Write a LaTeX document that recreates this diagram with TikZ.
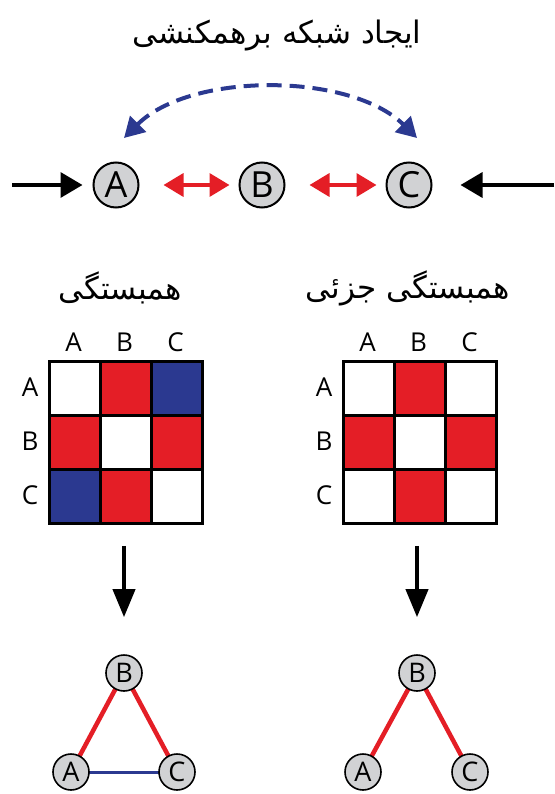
\documentclass[tikz,border=0pt]{standalone}
\usepackage{fontspec}
\setmainfont{Open Sans}
\newfontfamily\fa[Script=Arabic]{DejaVu Sans}
\TeXXeTstate=1
\usetikzlibrary{arrows.meta}
\definecolor{myred}{HTML}{E41E26}
\definecolor{myblue}{HTML}{2B3990}
\definecolor{nodegray}{HTML}{D1D2D4}
\tikzset{
  bigcirc/.style={circle,draw=black,line width=2pt,fill=nodegray,minimum size=45pt,inner sep=0pt,font=\fontsize{36}{36}\selectfont},
  smallcirc/.style={circle,draw=black,line width=1.6pt,fill=nodegray,minimum size=36pt,inner sep=0pt,font=\fontsize{27}{27}\selectfont},
  cell/.style={draw=black,line width=2.8pt,minimum width=51pt,minimum height=54pt,inner sep=0pt,anchor=north west},
  lbl/.style={font=\fontsize{26}{26}\selectfont,inner sep=0pt},
  ttl/.style={font=\fa\fontsize{31}{36}\selectfont,inner sep=0pt},
  blackarr/.style={line width=3.5pt,-{Triangle[length=22pt,width=25pt]}},
  redarr/.style={myred,line width=3.5pt,{Triangle[length=20pt,width=23pt]}-{Triangle[length=20pt,width=23pt]}},
  bluearr/.style={myblue,line width=4pt,dash pattern=on 15pt off 8pt,{Triangle[length=20pt,width=22pt]}-{Triangle[length=20pt,width=22pt]}},
  downarr/.style={line width=4pt,-{Triangle[length=28pt,width=22pt]}},
  rededge/.style={myred,line width=4.5pt},
  blueedge/.style={myblue,line width=3pt}
}
\begin{document}
\begin{tikzpicture}[x=1pt,y=-1pt]
\useasboundingbox (0,0) rectangle (554,794);
% title
\node[ttl] (title) at (277,36) {\beginR ایجاد شبکه برهمکنشی\endR};
% top row
\node[bigcirc] (A) at (116,185) {A};
\node[bigcirc] (B) at (262,185) {B};
\node[bigcirc] (C) at (409,185) {C};
\coordinate (Lin) at (12,185);
\coordinate (Rin) at (554,185);
\draw[blackarr,shorten >=10pt] (Lin) -- (A.west);
\draw[blackarr,shorten >=28pt] (Rin) -- (C.east);
\draw[redarr,shorten <=24pt,shorten >=9pt] (A.east) -- (B.west);
\draw[redarr,shorten <=24pt,shorten >=9pt] (B.east) -- (C.west);
\coordinate (Atop) at (124,138);
\coordinate (Ctop) at (417,138);
\draw[bluearr] (Atop) .. controls (190,72) and (350,72) .. (Ctop);
% subtitles
\node[ttl] (t1) at (120,288) {\beginR همبستگی\endR};
\node[ttl] (t2) at (408,288) {\beginR همبستگی جزئی\endR};
% labels
\foreach \r/\rl in {0/A,1/B,2/C}{
  \node[lbl] (lr\r) at (30,{387+54*\r}) {\rl};
  \node[lbl] (lc\r) at ({73.5+51*\r},342) {\rl};
  \node[lbl] (rr\r) at (324,{387+54*\r}) {\rl};
  \node[lbl] (rc\r) at ({367.5+51*\r},342) {\rl};
}
% left matrix
\foreach \r/\cA/\cB/\cC in {0/white/myred/myblue,1/myred/white/myred,2/myblue/myred/white}{
  \node[cell,fill=\cA] (L\r0) at (48,{360+54*\r}) {};
  \node[cell,fill=\cB] (L\r1) at (99,{360+54*\r}) {};
  \node[cell,fill=\cC] (L\r2) at (150,{360+54*\r}) {};
}
% right matrix
\foreach \r/\cA/\cB/\cC in {0/white/myred/white,1/myred/white/myred,2/white/myred/white}{
  \node[cell,fill=\cA] (R\r0) at (342,{360+54*\r}) {};
  \node[cell,fill=\cB] (R\r1) at (393,{360+54*\r}) {};
  \node[cell,fill=\cC] (R\r2) at (444,{360+54*\r}) {};
}
% bottom graphs
\coordinate (lBc) at (124,673);
\coordinate (lAc) at (71,772);
\coordinate (lCc) at (177,772);
\coordinate (rBc) at (417,673);
\coordinate (rAc) at (363,772);
\coordinate (rCc) at (470,772);
\draw[rededge] (lBc) -- (lAc);
\draw[rededge] (lBc) -- (lCc);
\draw[blueedge] (lAc) -- (lCc);
\draw[rededge] (rBc) -- (rAc);
\draw[rededge] (rBc) -- (rCc);
\node[smallcirc] (lB) at (lBc) {B};
\node[smallcirc] (lA) at (lAc) {A};
\node[smallcirc] (lC) at (lCc) {C};
\node[smallcirc] (rB) at (rBc) {B};
\node[smallcirc] (rA) at (rAc) {A};
\node[smallcirc] (rC) at (rCc) {C};
\draw[downarr,shorten <=21pt,shorten >=37pt] (lB.north |- L21.south) -- (lB.north);
\draw[downarr,shorten <=21pt,shorten >=37pt] (rB.north |- R21.south) -- (rB.north);
\end{tikzpicture}
\end{document}
